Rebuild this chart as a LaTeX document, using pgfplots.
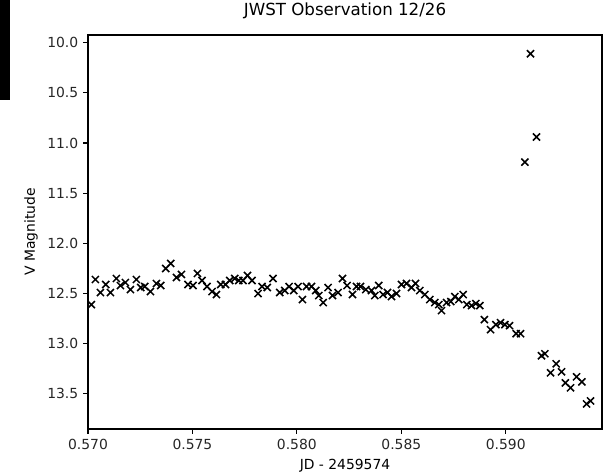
\documentclass[border=0pt]{standalone}
\usepackage{pgfplots}
\pgfplotsset{compat=1.18}
\usepackage{fontspec}
\setmainfont{DejaVu Sans}
\begin{document}
\begin{tikzpicture}[x=1pt,y=1pt]
\useasboundingbox (-63.36pt,-33.12pt) rectangle (375.84pt,308.88pt);
\fill[black] (-63.36pt,308.88pt) rectangle (-56.16pt,236.88pt);
\begin{axis}[
  at={(0pt,0pt)}, anchor=south west,
  scale only axis, width=370.1pt, height=283.7pt,
  xmin=0.570, xmax=0.59461,
  ymin=9.923, ymax=13.85, y dir=reverse,
  xtick={0.570,0.575,0.580,0.585,0.590},
  ytick={10.0,10.5,11.0,11.5,12.0,12.5,13.0,13.5},
  scaled x ticks=false, scaled y ticks=false,
  xticklabel style={/pgf/number format/.cd,fixed,fixed zerofill,precision=3},
  yticklabel style={/pgf/number format/.cd,fixed,fixed zerofill,precision=1},
  /pgf/number format/assume math mode=true,
  tick align=outside, xtick pos=left, ytick pos=left,
  major tick length=3.5pt,
  every tick/.style={black, line width=0.8pt},
  axis line style={line width=0.8pt},
  tick label style={font=\fontsize{10}{12}\selectfont, text=black!85},
  label style={font=\fontsize{10}{12}\selectfont},
  title style={font=\fontsize{12}{14}\selectfont, yshift=2pt},
  title={JWST Observation 12/26},
  xlabel={JD - 2459574},
  ylabel={V Magnitude},
]
\addplot[only marks, mark=x, mark size=3.6pt, black, line width=1.1pt] coordinates {
(0.570163,12.61) (0.570354,12.36) (0.570594,12.49) (0.570848,12.41) (0.571073,12.49)
(0.571360,12.35) (0.571552,12.42) (0.571791,12.39) (0.572031,12.46) (0.572318,12.36)
(0.572524,12.44) (0.572716,12.43) (0.572989,12.48) (0.573276,12.40) (0.573482,12.42)
(0.573721,12.25) (0.573961,12.20) (0.574234,12.34) (0.574473,12.31) (0.574789,12.41)
(0.575029,12.42) (0.575239,12.30) (0.575460,12.37) (0.575699,12.43) (0.575939,12.48)
(0.576149,12.51) (0.576355,12.41) (0.576580,12.41) (0.576786,12.37) (0.577026,12.35)
(0.577217,12.37) (0.577423,12.37) (0.577634,12.32) (0.577854,12.37) (0.578142,12.50)
(0.578333,12.43) (0.578582,12.44) (0.578860,12.35) (0.579181,12.49) (0.579420,12.47)
(0.579626,12.43) (0.579852,12.47) (0.580057,12.43) (0.580268,12.56) (0.580460,12.43)
(0.580699,12.43) (0.580905,12.47) (0.581050,12.52) (0.581260,12.59) (0.581494,12.44)
(0.581705,12.52) (0.581973,12.49) (0.582184,12.35) (0.582404,12.42) (0.582663,12.51)
(0.582854,12.43) (0.583046,12.43) (0.583300,12.46) (0.583573,12.47) (0.583731,12.52)
(0.583922,12.42) (0.584128,12.51) (0.584339,12.49) (0.584531,12.53) (0.584770,12.50)
(0.585010,12.41) (0.585249,12.40) (0.585489,12.44) (0.585680,12.40) (0.585886,12.47)
(0.586126,12.51) (0.586365,12.56) (0.586605,12.59) (0.586796,12.61) (0.586925,12.67)
(0.587165,12.59) (0.587371,12.58) (0.587562,12.53) (0.587754,12.56) (0.587960,12.51)
(0.588137,12.61) (0.588362,12.62) (0.588568,12.60) (0.588760,12.62) (0.588975,12.76)
(0.589272,12.86) (0.589526,12.81) (0.589751,12.79) (0.589957,12.81) (0.590182,12.82)
(0.590498,12.90) (0.590709,12.90) (0.590915,11.19) (0.591188,10.11) (0.591475,10.94)
(0.591715,13.12) (0.591873,13.10) (0.592146,13.29) (0.592414,13.20) (0.592672,13.28)
(0.592855,13.39) (0.593103,13.44) (0.593391,13.33) (0.593645,13.38) (0.593870,13.60)
(0.594061,13.57)
};
\end{axis}
\end{tikzpicture}
\end{document}
